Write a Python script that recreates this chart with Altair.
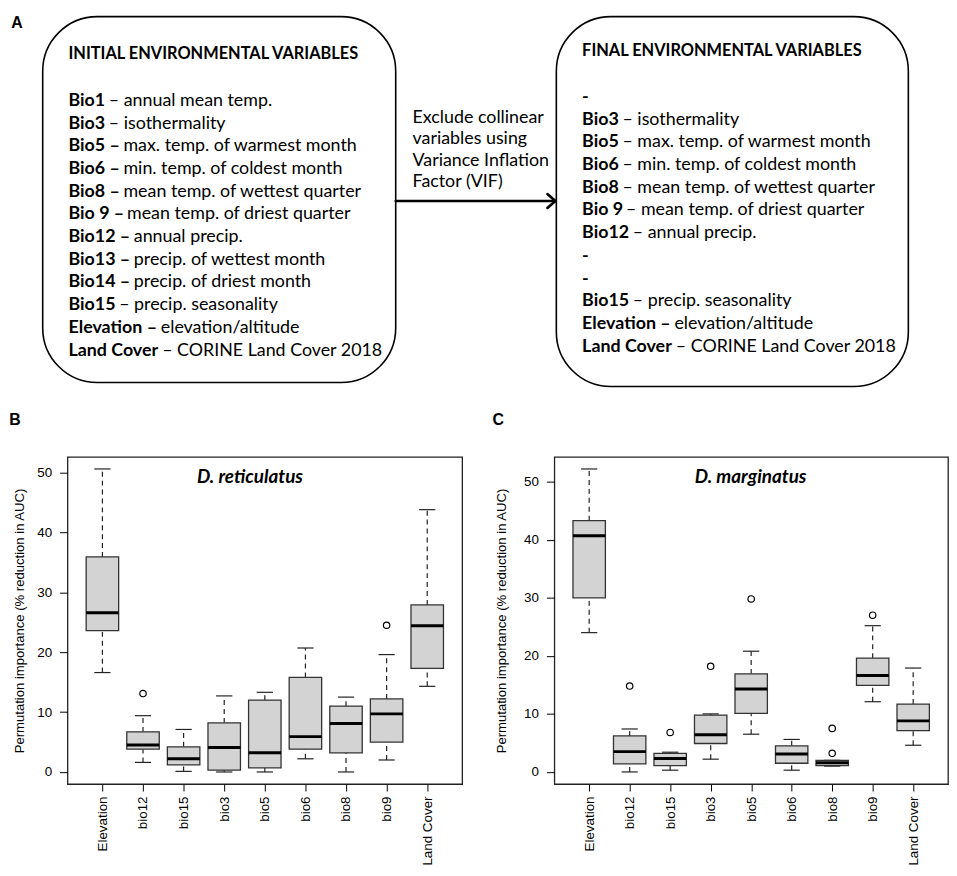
import altair as alt
import pandas as pd

# ---------------- data ----------------
categories = ["Elevation", "bio12", "bio15", "bio3", "bio5", "bio6", "bio8", "bio9", "Land Cover"]

# Panel B  (D. reticulatus)
b_low = [16.6, 1.6, 0.1, 0.0, 0.0, 2.2, 0.0, 2.0, 14.3]
b_q1 = [23.6, 3.8, 1.2, 0.3, 0.7, 3.8, 3.2, 5.0, 17.3]
b_median = [26.6, 4.5, 2.2, 4.1, 3.2, 5.9, 8.1, 9.7, 24.4]
b_q3 = [35.9, 6.7, 4.2, 8.2, 12.0, 15.8, 11.0, 12.2, 27.9]
b_high = [50.6, 9.4, 7.1, 12.7, 13.3, 20.7, 12.5, 19.6, 43.8]
b_outlier_cat = ["bio12", "bio9"]
b_outlier_val = [13.1, 24.5]

# Panel C  (D. marginatus)
c_low = [24.0, 0.0, 0.3, 2.2, 6.5, 0.3, 1.0, 12.1, 4.6]
c_q1 = [30.0, 1.4, 1.1, 4.9, 10.1, 1.5, 1.1, 14.9, 7.1]
c_median = [40.7, 3.5, 2.3, 6.4, 14.3, 3.1, 1.6, 16.6, 8.8]
c_q3 = [43.3, 6.2, 3.2, 9.8, 16.9, 4.5, 2.0, 19.6, 11.7]
c_high = [52.2, 7.4, 3.4, 10.0, 20.8, 5.6, 2.0, 25.2, 17.9]
c_outlier_cat = ["bio12", "bio15", "bio3", "bio5", "bio8", "bio8", "bio9"]
c_outlier_val = [14.8, 6.8, 18.2, 29.8, 7.5, 3.2, 27.0]

y_ticks = [0, 10, 20, 30, 40, 50]
y_title = "Permutation importance (% reduction in AUC)"
species = ["D. reticulatus", "D. marginatus"]
panel_letters = ["A", "B", "C"]

initial_title = "INITIAL ENVIRONMENTAL VARIABLES"
initial_bold = ["Bio1", "Bio3", "Bio5 –", "Bio6 –", "Bio8 –", "Bio 9 –", "Bio12 –",
                "Bio13 –", "Bio14 –", "Bio15", "Elevation –", "Land Cover"]
initial_rest = ["– annual mean temp.", "– isothermality", "max. temp. of warmest month",
                "min. temp. of coldest month", "mean temp. of wettest quarter",
                "mean temp. of driest quarter", "annual precip.", "precip. of wettest month",
                "precip. of driest month", "– precip. seasonality", "elevation/altitude",
                "– CORINE Land Cover 2018"]
final_title = "FINAL ENVIRONMENTAL VARIABLES"
final_bold = ["-", "Bio3", "Bio5", "Bio6", "Bio8", "Bio 9", "Bio12", "-", "-", "Bio15",
              "Elevation –", "Land Cover"]
final_rest = ["", "– isothermality", "– max. temp. of warmest month",
              "– min. temp. of coldest month", "– mean temp. of wettest quarter",
              "– mean temp. of driest quarter", "– annual precip.", "", "",
              "– precip. seasonality", "elevation/altitude", "– CORINE Land Cover 2018"]
middle_lines = ["Exclude collinear", "variables using", "Variance Inflation", "Factor (VIF)"]

# ---------------- layout / style ----------------
TXT_FONT = "Lato"
AX_FONT = "Liberation Sans"
A_FS = 18
HEAD_FS = 16.5
PLOT_H = 330
W_B, W_C = 398, 397
A_X0 = 65            # page x of panel A's origin (aligned with panel B's plot area)
W_A, H_A = 876, 446

LATO_BOLD_EM = {"B": .64, "i": .25, "o": .57, " ": .20, "E": .56, "l": .25, "e": .53,
                "v": .53, "a": .51, "t": .36, "n": .57, "L": .49, "C": .68, "r": .38,
                "d": .57, "–": .62, "-": .33}


def bold_width(s):
    return sum(LATO_BOLD_EM.get(ch, .58) for ch in s) * A_FS


def rows(bold, rest, x0, y0, step):
    bl, rl = [], []
    for k, (b, r) in enumerate(zip(bold, rest)):
        y = y0 + step * k
        bl.append({"x": x0, "y": y, "t": b})
        if r:
            rl.append({"x": x0 + bold_width(b) + 0.22 * A_FS, "y": y, "t": r})
    return bl, rl


lb, lr = rows(initial_bold, initial_rest, 66, 97, 22.9)
rb, rr = rows(final_bold, final_rest, 584, 93, 22.9)
bold_df = pd.DataFrame(lb + rb)
reg_df = pd.DataFrame(lr + rr)
heads_df = pd.DataFrame({"x": [66, 584], "y": [50, 47], "t": [initial_title, final_title]})
mid_df = pd.DataFrame({"x": [413] * 4, "y": [114 + 21.7 * k for k in range(4)], "t": middle_lines})
letters_df = pd.DataFrame({"x": [14, 12, 499.5], "y": [19, 418.5, 418.5], "t": panel_letters})
boxes_df = pd.DataFrame({"x": [40, 558], "x2": [396, 913], "y": [12, 12], "y2": [381, 385]})
arrow_df = pd.DataFrame({"x": [396, 549, 549], "x2": [556, 557, 557],
                         "y": [198, 191, 205], "y2": [198, 198, 198]})

xA = alt.Scale(domain=[A_X0, A_X0 + W_A], nice=False, zero=False)
yA = alt.Scale(domain=[8, 8 + H_A], nice=False, zero=False, reverse=True)


def XA(f):
    return alt.X(f, scale=xA, axis=None)


def YA(f):
    return alt.Y(f, scale=yA, axis=None)


boxesA = alt.Chart(boxes_df).mark_rect(cornerRadius=55, fill="white", stroke="black",
                                       strokeWidth=1.6).encode(
    x=XA("x:Q"), x2="x2:Q", y=YA("y:Q"), y2="y2:Q")
arrowA = alt.Chart(arrow_df).mark_rule(color="black", strokeWidth=2.6, strokeCap="round").encode(
    x=XA("x:Q"), x2="x2:Q", y=YA("y:Q"), y2="y2:Q")


def text_layer(df, weight, size, font, align="left"):
    return alt.Chart(df).mark_text(align=align, baseline="middle", font=font, fontSize=size,
                                   fontWeight=weight, color="black").encode(
        x=XA("x:Q"), y=YA("y:Q"), text="t:N")


panelA = alt.layer(
    boxesA, arrowA,
    text_layer(heads_df, "bold", HEAD_FS, TXT_FONT),
    text_layer(bold_df, "bold", A_FS, TXT_FONT),
    text_layer(reg_df, "normal", A_FS, TXT_FONT),
    text_layer(mid_df, "normal", A_FS, TXT_FONT),
    text_layer(letters_df, "bold", 16, AX_FONT, align="center"),
).properties(width=W_A, height=H_A, view=alt.ViewBackground(stroke="transparent"))

label_expr = "[" + ",".join("'%s'" % c for c in categories) + "][datum.value - 1]"


def box_panel(low, q1, med, q3, high, out_cat, out_val, title, title_x, ydom, width,
              title_pad):
    df = pd.DataFrame({"cat": categories, "lo": low, "q1": q1, "med": med, "q3": q3, "hi": high})
    df["idx"] = range(1, len(categories) + 1)
    df["left"] = df["idx"] - 0.4
    df["right"] = df["idx"] + 0.4
    df["capl"] = df["idx"] - 0.2
    df["capr"] = df["idx"] + 0.2
    odf = pd.DataFrame({"cat": out_cat, "v": out_val})
    odf["idx"] = odf["cat"].map({c: i + 1 for i, c in enumerate(categories)})

    xs = alt.Scale(domain=[0.14, 9.86], nice=False, zero=False)
    ys = alt.Scale(domain=ydom, nice=False, zero=False)
    xaxis = alt.Axis(values=list(range(1, 10)), labelExpr=label_expr, labelAngle=270,
                     tickSize=7, labelPadding=5, domain=False, grid=False, title=None,
                     labelFont=AX_FONT, labelFontSize=13.5, labelColor="black",
                     tickColor="black", labelOverlap=False)
    yaxis = alt.Axis(values=y_ticks, tickSize=8, labelPadding=8, domain=False, grid=False,
                     title=y_title, titleFont=AX_FONT, titleFontSize=13.2,
                     titleFontWeight="normal", titleColor="black", titlePadding=title_pad,
                     labelFont=AX_FONT, labelFontSize=13.5, labelColor="black",
                     tickColor="black")

    def X(f):
        return alt.X(f, scale=xs, axis=xaxis)

    def Y(f):
        return alt.Y(f, scale=ys, axis=yaxis)

    base = alt.Chart(df)
    wh_hi = base.mark_rule(strokeDash=[5, 4], color="#222", strokeWidth=1.2).encode(
        x=X("idx:Q"), y=Y("q3:Q"), y2="hi:Q")
    wh_lo = base.mark_rule(strokeDash=[5, 4], color="#222", strokeWidth=1.2).encode(
        x=X("idx:Q"), y=Y("lo:Q"), y2="q1:Q")
    cap_hi = base.mark_rule(color="#222", strokeWidth=1.2).encode(
        x=X("capl:Q"), x2="capr:Q", y=Y("hi:Q"))
    cap_lo = base.mark_rule(color="#222", strokeWidth=1.2).encode(
        x=X("capl:Q"), x2="capr:Q", y=Y("lo:Q"))
    box = base.mark_rect(fill="#d3d3d3", stroke="#333", strokeWidth=1.3).encode(
        x=X("left:Q"), x2="right:Q", y=Y("q1:Q"), y2="q3:Q")
    median = base.mark_rule(color="black", strokeWidth=3).encode(
        x=X("left:Q"), x2="right:Q", y=Y("med:Q"))
    outl = alt.Chart(odf).mark_point(shape="circle", filled=False, color="black", size=42,
                                     strokeWidth=1.2, opacity=1).encode(
        x=X("idx:Q"), y=Y("v:Q"))
    ttl = alt.Chart(pd.DataFrame({"t": [title]})).mark_text(
        font=TXT_FONT, fontSize=19, fontWeight="bold", fontStyle="italic", color="black",
        align="center", baseline="middle").encode(
        text="t:N", x=alt.value(title_x), y=alt.value(20))
    return alt.layer(wh_hi, wh_lo, cap_hi, cap_lo, box, median, outl, ttl).properties(
        width=width, height=PLOT_H)


panelB = box_panel(b_low, b_q1, b_median, b_q3, b_high, b_outlier_cat, b_outlier_val,
                   species[0], 184, [-2.02, 52.62], W_B, 10)
panelC = box_panel(c_low, c_q1, c_median, c_q3, c_high, c_outlier_cat, c_outlier_val,
                   species[1], 198, [-2.09, 54.29], W_C, 15)

row = alt.hconcat(panelB, panelC, spacing=31)
chart = alt.vconcat(panelA, row, spacing=0).properties(padding=0).configure_view(
    stroke="#222", strokeWidth=1.3)

chart.save("out.html", embed_options={"renderer": "svg", "actions": False})
